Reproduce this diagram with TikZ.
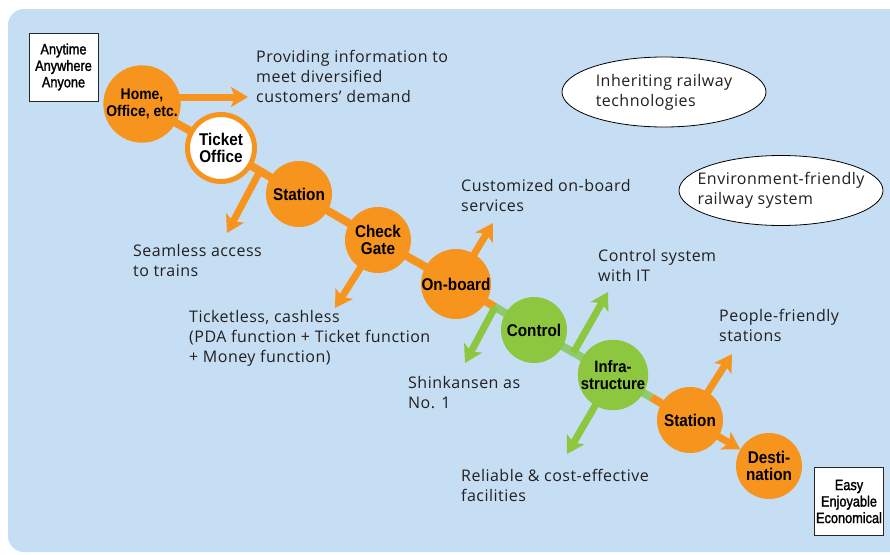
\documentclass[tikz,border=0pt]{standalone}
\usepackage{fontspec}
\setmainfont{Open Sans}[LetterSpace=3]
\newfontfamily\circfont{Liberation Sans}[UprightFont={* Bold}, FakeStretch=0.9]
\newfontfamily\boxfont{Liberation Sans}[FakeStretch=0.85, FakeBold=1.5]
\usetikzlibrary{arrows.meta,shapes.geometric,calc}
\pgfdeclarelayer{paper}
\pgfdeclarelayer{back}
\pgfsetlayers{paper,back,main}

\definecolor{bgblue}{RGB}{198,222,243}
\definecolor{jrorange}{RGB}{247,148,30}
\definecolor{jrgreen}{RGB}{141,198,63}
\definecolor{linkgreen}{RGB}{143,203,110}
\definecolor{ink}{RGB}{35,31,32}

\tikzset{
  stop/.style={circle, minimum size=66pt, inner sep=0pt, fill=jrorange, text=black, align=center,
    font={\circfont\fontsize{17}{17}\selectfont}},
  gstop/.style={stop, fill=jrgreen},
  link/.style={line width=8pt},
  oarrow/.style={line width=7pt, draw=jrorange, -{Stealth[length=17pt,width=20pt,inset=4pt]}},
  garrow/.style={oarrow, draw=jrgreen},
  note/.style={anchor=north west, inner sep=0pt, align=left, text=ink,
    font={\fontsize{16}{20}\selectfont}},
  bubble/.style={ellipse, draw=black, line width=0.8pt, fill=white, minimum width=204pt,
    minimum height=70pt, inner xsep=-40pt, inner ysep=-10pt, align=left, text=ink,
    font={\fontsize{16}{20}\selectfont}},
  tagbox/.style={draw=black!85, line width=1pt, fill=white, minimum width=69pt, minimum height=68pt,
    inner sep=0pt, align=center, text=black, font={\boxfont\fontsize{15}{16.5}\selectfont}}
}

\begin{document}
\begin{tikzpicture}[x=1pt,y=-1pt]
\useasboundingbox (0,0) rectangle (890,554);
\begin{pgfonlayer}{paper}
  \fill[bgblue, rounded corners=16pt] (8,9) rectangle (930,552);
\end{pgfonlayer}

% stations along the journey
\node[stop, font={\circfont\fontsize{15.5}{17}\selectfont}] (home) at (142,104) {Home,\\Office, etc.};
\node[stop, fill=white, draw=jrorange, line width=5pt, minimum size=67pt] (ticket) at (221,148) {Ticket\\Office};
\node[stop] (sta1) at (299,194) {Station};
\node[stop] (gate) at (378,240) {Check\\Gate};
\node[stop] (onb) at (456,284) {On-board};
\node[gstop] (ctrl) at (534,330) {Control};
\node[gstop, font={\circfont\fontsize{16.5}{17}\selectfont}] (infra) at (613,375) {Infra-\\structure};
\node[stop] (sta2) at (690,420) {Station};
\node[stop] (dest) at (769,466) {Desti-\\nation};

% points on the links and arrow tips
\coordinate (m0) at ($(ticket)!0.5!(sta1)$);
\coordinate (m1) at ($(onb)!0.5!(ctrl)$);
\coordinate (m2) at ($(ctrl)!0.5!(infra)$);
\coordinate (m3) at ($(infra)!0.5!(sta2)$);
\coordinate (i0) at (165,97);
\coordinate (t1) at (248,97);
\coordinate (t2) at (227,233);
\coordinate (t3) at (335,308);
\coordinate (t4) at (493,223);
\coordinate (t5) at (465,363);
\coordinate (t6) at (608,292);
\coordinate (t7) at (567,454);
\coordinate (t8) at (732,354);

\begin{pgfonlayer}{back}
  \draw[link, jrorange] (home.center) -- (ticket.center) -- (sta1.center) -- (gate.center) -- (onb.center) -- (m1);
  \draw[link, linkgreen] (m1) -- (ctrl.center) -- (infra.center) -- (m3);
  \draw[link, jrorange] (m3) -- (sta2.center);
  \draw[oarrow] (i0) -- (t1);
  \draw[oarrow] (m0) -- (t2);
  \draw[oarrow] (gate.center) -- (t3);
  \draw[oarrow] (onb.center) -- (t4);
  \draw[garrow] (m1) -- (t5);
  \draw[garrow] (m2) -- (t6);
  \draw[garrow] (infra.center) -- (t7);
  \draw[oarrow] (sta2.center) -- (t8);
  \draw[oarrow] (sta2.center) -- (dest);
\end{pgfonlayer}

% captions
\node[note] (info) at (256,50) {Providing information to\\meet diversified\\customers’ demand};
\node[note] (custom) at (461,179) {Customized on-board\\services};
\node[note] (seam) at (133,244) {Seamless access\\to trains};
\node[note] (cash) at (189,310) {Ticketless, cashless\\(PDA function + Ticket function\\+ Money function)};
\node[note] (ctrlit) at (598,249) {Control system\\with IT};
\node[note] (shin) at (408,376) {Shinkansen as\\No. 1};
\node[note] (people) at (719,309) {People-friendly\\stations};
\node[note] (rel) at (461,469) {Reliable \& cost-effective\\facilities};

% themes
\node[bubble] (inherit) at (664,92) {Inheriting railway\\technologies};
\node[bubble] (env) at (781,190.5) {Environment-friendly\\railway system};

% boxes at the ends
\node[tagbox] (any) at (63.5,67) {Anytime\\Anywhere\\Anyone};
\node[tagbox] (easy) at (849,501.5) {Easy\\Enjoyable\\Economical};
\end{tikzpicture}
\end{document}
